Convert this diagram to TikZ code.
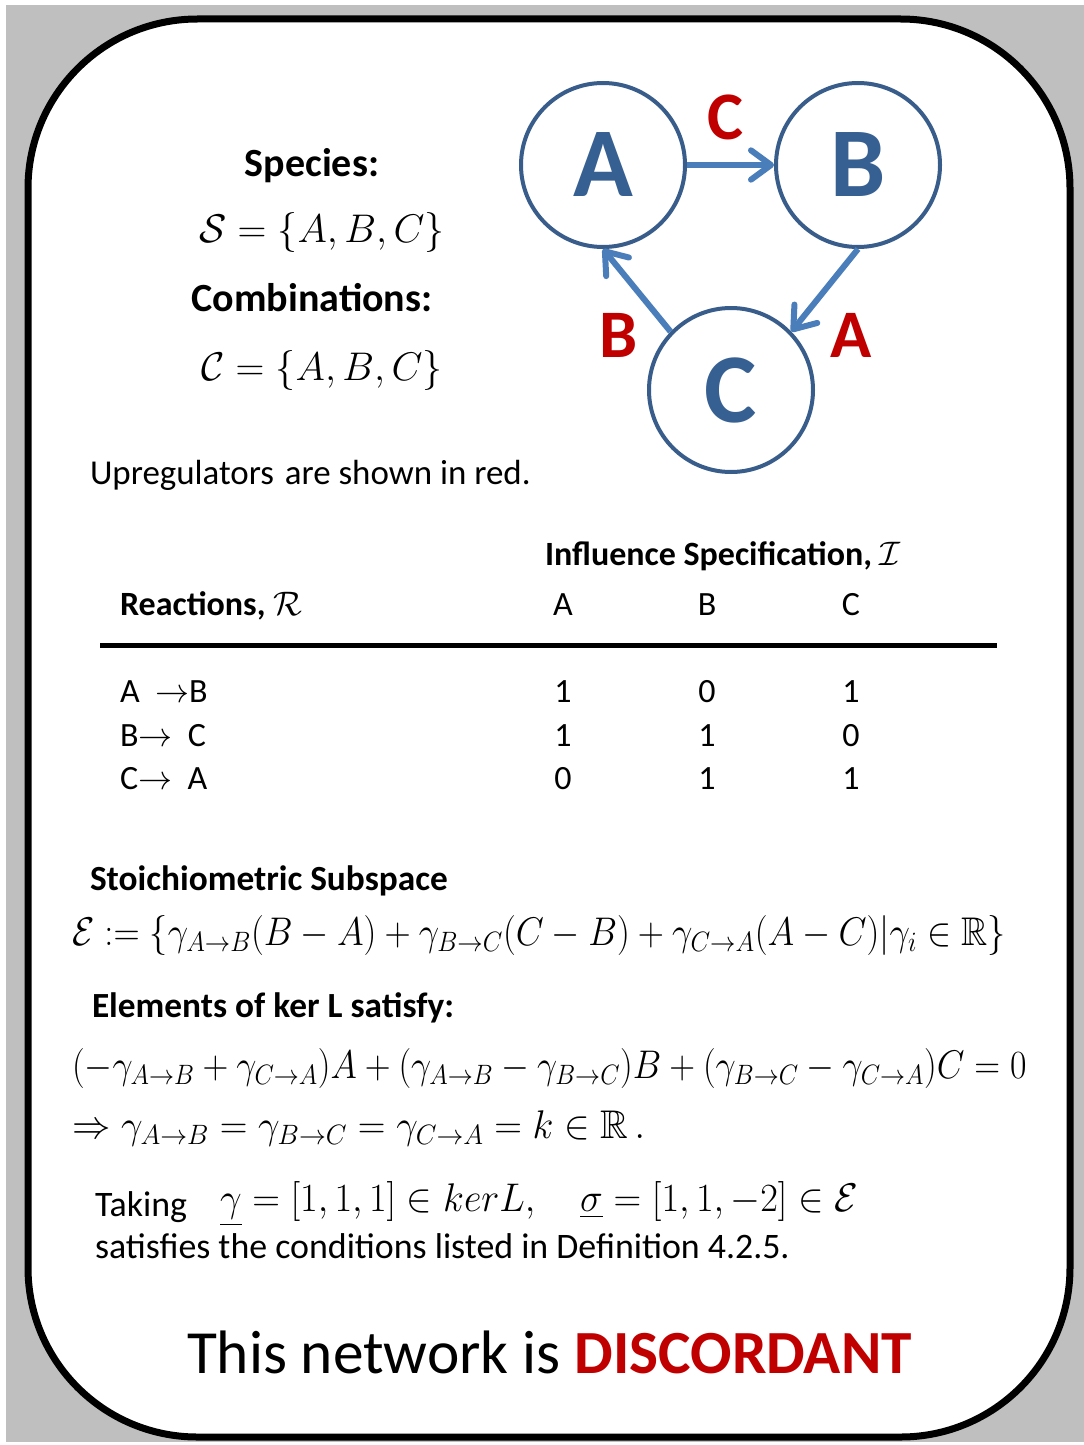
\documentclass[tikz,border=0pt]{standalone}
\usepackage{fix-cm}
\usepackage{graphicx}
\usepackage{amsmath,amssymb}
\DeclareFontFamily{U}{msb}{}
\DeclareFontShape{U}{msb}{m}{n}{<-> msbm10}{}
\usepackage[no-math]{fontspec}
\setmainfont{Carlito}
\usetikzlibrary{arrows.meta}
\definecolor{nodeblue}{HTML}{385D8A}
\definecolor{letterblue}{HTML}{376092}
\definecolor{arrowblue}{HTML}{4A7EBB}
\definecolor{upred}{HTML}{C00000}
\definecolor{bggray}{HTML}{BFBFBF}
\newcommand\myfs[1]{\fontsize{#1}{#1}\selectfont}
\begin{document}
\begin{tikzpicture}[x=0.75pt,y=-0.75pt,
  txt/.style={inner sep=0pt,outer sep=0pt},
  circ/.style={circle,draw=nodeblue,line width=3pt,minimum size=123pt,inner sep=0pt,
    text=letterblue,font=\myfs{74}\bfseries},
  lab/.style={inner sep=0pt,text=upred,font=\myfs{51}\bfseries},
  flow/.style={draw=arrowblue,line width=4.5pt,-{Straight Barb[length=15pt,width=22pt,round]}},
  head/.style={txt,font=\myfs{30}\bfseries},
  body/.style={txt,font=\myfs{26.9}},
  tab/.style={txt,font=\myfs{25.5}},
  mth/.style={txt,font=\myfs{30}}]
\useasboundingbox (0,0) rectangle (1084,1445);
\fill[white] (0,0) rectangle (1084,1445);
\fill[bggray] (6,5) rectangle (1084,1442);
\draw[line width=5.25pt,fill=white,rounded corners=127pt] (28,19) rectangle (1070,1437);

% left top block
\node[head,anchor=base] (species) at (312,176) {Species:};
\node[mth,anchor=base] (sset) at (322,242) {$\mathcal{S}=\{A,B,C\}$};
\node[head,anchor=base] (comb) at (312,311) {Combinations:};
\node[mth,anchor=base] (cset) at (322,380) {$\mathcal{C}=\{A,B,C\}$};
\node[txt,font=\myfs{26.2},anchor=base west] (upreg) at (90,484) {Upregulators\hspace{0.08em} are shown in red.};

% graph
\node[circ] (A) at (603,165) {A};
\node[circ] (B) at (858,165) {B};
\node[circ] (C) at (731,390) {C};
\draw[flow] (A.east) -- (B.west);
\draw[flow] (B.south) -- (C.44);
\draw[flow] (C.136) -- (A.south);
\node[lab] (lc) at (725,117) {C};
\node[lab] (lb) at (619,335) {B};
\node[lab] (la) at (851,335) {A};

% table
\node[tab,font=\myfs{25.5}\bfseries,anchor=base west] (infl) at (545,565) {Influence Specification, $\mathcal{I}$};
\node[tab,font=\myfs{25.5}\bfseries,anchor=base west] (react) at (120,615) {Reactions, $\mathcal{R}$};
\node[tab,anchor=base] (hA) at (563,615) {A};
\node[tab,anchor=base] (hB) at (707,615) {B};
\node[tab,anchor=base] (hC) at (851,615) {C};
\coordinate (rl) at (100,645);
\coordinate (rr) at (997,645);
\draw[line width=3.75pt] (rl) -- (rr);
\node[tab,anchor=base west] (r1) at (120,702) {A \ $\rightarrow$B};
\node[tab,anchor=base west] (r2) at (120,746) {B$\rightarrow$\ \ C};
\node[tab,anchor=base west] (r3) at (120,789) {C$\rightarrow$\ \ A};
\node[tab,anchor=base] (v11) at (563,702) {1};
\node[tab,anchor=base] (v12) at (707,702) {0};
\node[tab,anchor=base] (v13) at (851,702) {1};
\node[tab,anchor=base] (v21) at (563,746) {1};
\node[tab,anchor=base] (v22) at (707,746) {1};
\node[tab,anchor=base] (v23) at (851,746) {0};
\node[tab,anchor=base] (v31) at (563,789) {0};
\node[tab,anchor=base] (v32) at (707,789) {1};
\node[tab,anchor=base] (v33) at (851,789) {1};

% stoichiometric subspace
\node[txt,font=\myfs{26.5}\bfseries,anchor=base west] (stoich) at (90,890) {Stoichiometric Subspace};
\node[mth,anchor=base west] (eset) at (72,945) {\scalebox{0.907}[1]{$\mathcal{E}:=\{\gamma_{A\rightarrow B}(B-A)+\gamma_{B\rightarrow C}(C-B)+\gamma_{C\rightarrow A}(A-C)|\gamma_i\in\mathbb{R}\}$}};
\node[txt,font=\myfs{26.5}\bfseries,anchor=base west] (elem) at (92,1017) {Elements of ker L satisfy:};
\node[mth,anchor=base west] (eq1) at (72,1078) {\scalebox{0.895}[1]{$(-\gamma_{A\rightarrow B}+\gamma_{C\rightarrow A})A+(\gamma_{A\rightarrow B}-\gamma_{B\rightarrow C})B+(\gamma_{B\rightarrow C}-\gamma_{C\rightarrow A})C=0$}};
\node[mth,anchor=base west] (eq2) at (72,1138) {\scalebox{0.96}[1]{$\Rightarrow\gamma_{A\rightarrow B}=\gamma_{B\rightarrow C}=\gamma_{C\rightarrow A}=k\in\mathbb{R}\,.$}};

% taking
\node[body,anchor=base west] (taking) at (95,1216) {Taking};
\node[mth,anchor=base west] (tmath) at (220,1211) {\scalebox{0.96}[1]{$\underline{\gamma}=[1,1,1]\in ker L,\quad \underline{\sigma}=[1,1,-2]\in\mathcal{E}$}};
\node[body,anchor=base west] (satis) at (95,1258) {satisfies the conditions listed in Definition 4.2.5.};

% conclusion
\node[txt,font=\myfs{46},anchor=base west] (concl) at (187,1373) {This network is \textcolor{upred}{\bfseries DISCORDANT}};
\end{tikzpicture}
\end{document}
